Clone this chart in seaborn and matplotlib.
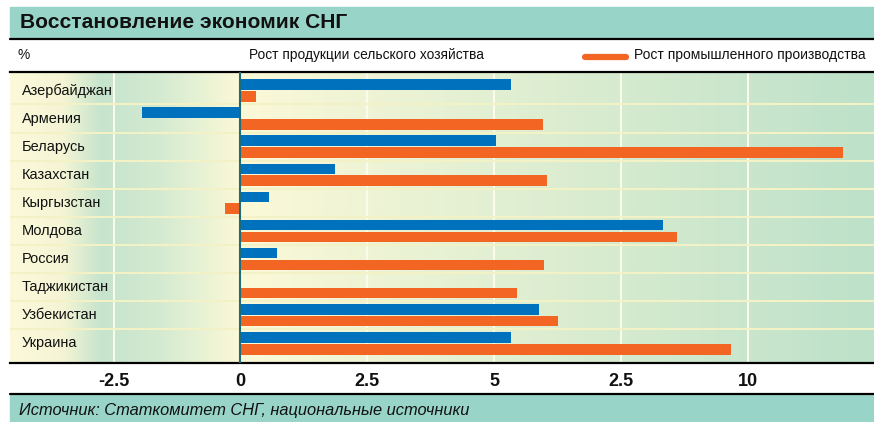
import numpy as np
import pandas as pd
import seaborn as sns
import matplotlib.pyplot as plt
from matplotlib.colors import to_rgb
from matplotlib.lines import Line2D
from matplotlib.patches import Rectangle
import matplotlib.transforms as mtransforms

# data, %
countries = ["Азербайджан", "Армения", "Беларусь", "Казахстан", "Кыргызстан",
             "Молдова", "Россия", "Таджикистан", "Узбекистан", "Украина"]
agri = [5.33, -1.95, 5.04, 1.86, 0.56, 8.33, 0.71, 0.0, 5.88, 5.33]
industry = [0.31, 5.97, 11.88, 6.04, -0.31, 8.61, 5.99, 5.46, 6.25, 9.67]
series_names = ["Рост продукции сельского хозяйства", "Рост промышленного производства"]
tick_values = [-2.5, 0, 2.5, 5, 7.5, 10]
tick_labels = ["-2.5", "0", "2.5", "5", "2.5", "10"]

title = "Восстановление экономик СНГ"
source = "Источник: Статкомитет СНГ, национальные источники"

df = pd.DataFrame({
    "country": countries * 2,
    "value": agri + industry,
    "series": [series_names[0]] * len(countries) + [series_names[1]] * len(countries),
})

sns.set_theme(style="white")
plt.rcParams["font.family"] = ["Liberation Sans", "DejaVu Sans"]

BLUE = "#0071bc"
ORANGE = "#f26522"
TEAL = "#98d5c8"

W, H = 874, 422
fig = plt.figure(figsize=(W / 100, H / 100), dpi=100)
fig.patch.set_facecolor("white")


def fx(px):
    return px / W


def fy(py):
    return 1 - py / H


def fit(texts, probe, target):
    # scale font so that the probe text is as wide as in the reference
    r = fig.canvas.get_renderer()
    w = probe.get_window_extent(renderer=r).width
    k = target / w
    for t in texts:
        t.set_fontsize(t.get_fontsize() * k)


rect = [fx(10), fy(363), fx(874) - fx(10), fy(72) - fy(363)]

# background gradient
bg = fig.add_axes(rect, zorder=0)
stops = [0.0, 0.06, 0.105, 0.17, 0.266, 1.0]
cols = ["#fbf9d9", "#f5f5d5", "#c6e4cd", "#d3ead0", "#fbf9d8", "#bde1c9"]
xs = np.linspace(0, 1, 600)
rgb = np.array([to_rgb(c) for c in cols])
img = np.stack([np.interp(xs, stops, rgb[:, i]) for i in range(3)], axis=-1)[None, :, :]
bg.imshow(img, extent=[0, 1, 0, 1], aspect="auto")
bg.axis("off")

ax = fig.add_axes(rect, zorder=1)
ax.set_facecolor("none")

sns.barplot(data=df, y="country", x="value", hue="series", orient="h",
            palette=[BLUE, ORANGE], saturation=1, width=0.84, gap=0.1, legend=False,
            linewidth=0, ax=ax, zorder=3)

ax.set_xlim((10 - 240.5) / 50.72, (874 - 240.5) / 50.72)
ax.set_ylim(9.70, -0.655)

for v in tick_values:
    if v != 0:
        ax.axvline(v, color="#fbfbec", lw=1.5, zorder=1)
for k in range(len(countries) - 1):
    ax.axhline(k + 0.5, color="#f3f1c6", lw=1.5, zorder=1)
ax.axvline(0, color="#1f6b78", lw=1.5, zorder=4)

trans = mtransforms.blended_transform_factory(ax.transAxes, ax.transData)
names = []
for k, name in enumerate(countries):
    names.append(ax.text((22 - 10) / 864, k, name, transform=trans, ha="left",
                         va="center", fontsize=11, color="#111111"))

ax.set_yticks([])
ax.set_xticks(tick_values)
ax.set_xticklabels(tick_labels, fontsize=13, fontweight="bold", color="#111111")
ax.tick_params(axis="x", length=0, pad=7)
ax.set_xlabel("")
ax.set_ylabel("")
for s in ["left", "right"]:
    ax.spines[s].set_visible(False)
for s in ["top", "bottom"]:
    ax.spines[s].set_color("black")
    ax.spines[s].set_linewidth(1.6)

# title and footer bands
fig.patches.append(Rectangle((fx(10), fy(38)), 1 - fx(10), fy(7) - fy(38),
                             transform=fig.transFigure, color=TEAL, zorder=0))
fig.patches.append(Rectangle((fx(10), 0), 1 - fx(10), fy(394),
                             transform=fig.transFigure, color=TEAL, zorder=0))
fig.lines.append(Line2D([fx(10), 1], [fy(38.5), fy(38.5)], transform=fig.transFigure,
                        color="black", lw=1.6))
fig.lines.append(Line2D([fx(10), 1], [fy(394), fy(394)], transform=fig.transFigure,
                        color="black", lw=1.6))

t_title = fig.text(fx(20), fy(23), title, fontsize=14, fontweight="bold",
                   va="center", ha="left", color="#111111")
t_src = fig.text(fx(19), fy(411), source, fontsize=12, style="italic",
                 va="center", ha="left", color="#111111")

# header row
t_pct = fig.text(fx(18), fy(55), "%", fontsize=11, va="center", ha="left", color="#111111")
t_s1 = fig.text(fx(249), fy(55), series_names[0], fontsize=11, va="center", ha="left",
                color="#111111")
fig.lines.append(Line2D([fx(585), fx(626)], [fy(57), fy(57)], transform=fig.transFigure,
                        color=ORANGE, lw=4.5, solid_capstyle="round"))
t_s2 = fig.text(fx(634), fy(55), series_names[1], fontsize=11, va="center", ha="left",
                color="#111111")

fig.canvas.draw()
fit([t_title], t_title, 327)
fit([t_src], t_src, 448)
fit([t_s1, t_pct], t_s1, 232)
fit([t_s2], t_s2, 230)
fit(names, names[0], 90)
tl = ax.get_xticklabels()
fit(tl, tl[2], 25)

fig.savefig("out.png", dpi=100)
